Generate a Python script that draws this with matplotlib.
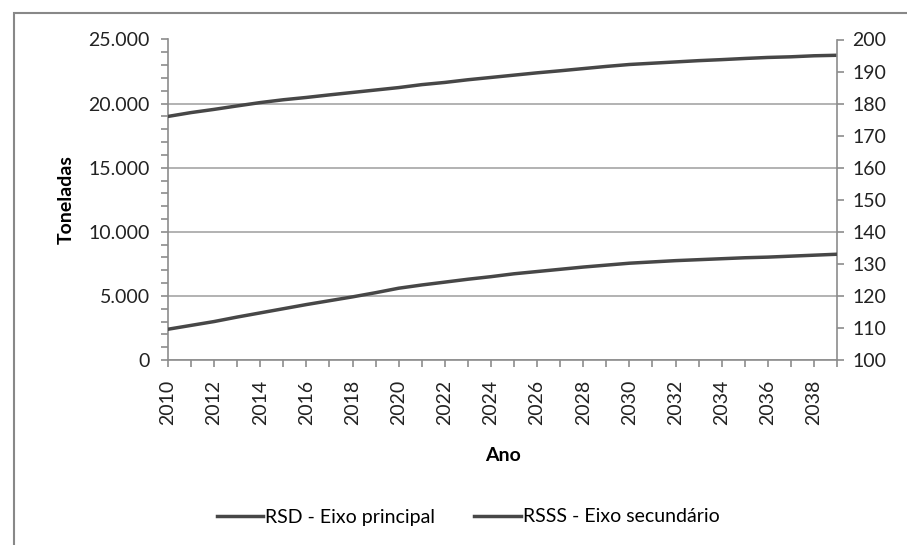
import numpy as np
import matplotlib.pyplot as plt
from matplotlib.patches import Rectangle
from matplotlib.ticker import FuncFormatter, MultipleLocator

plt.rcParams['font.family'] = ['Lato', 'DejaVu Sans']

# anos da projecao
anos = list(range(2010, 2040))

# RSD - toneladas (eixo principal)
rsd = [19000, 19300, 19550, 19820, 20080, 20300, 20480, 20680, 20870, 21060,
       21250, 21480, 21650, 21860, 22040, 22220, 22400, 22560, 22730, 22900,
       23050, 23150, 23250, 23350, 23430, 23520, 23600, 23650, 23730, 23770]

# RSSS - toneladas (eixo secundario)
rsss = [109.6, 110.8, 112.0, 113.4, 114.7, 116.0, 117.3, 118.5, 119.7, 121.0,
        122.4, 123.4, 124.3, 125.2, 126.0, 126.9, 127.6, 128.3, 129.0, 129.6,
        130.2, 130.6, 131.0, 131.3, 131.6, 131.9, 132.1, 132.4, 132.7, 133.0]

line_col = '#474747'
axis_col = '#8c8c8c'
grid_col = '#a6a6a6'
fs = 14

fig = plt.figure(figsize=(9.07, 5.45), dpi=100)
ax = fig.add_axes([168/907, 1-360/545, (837-168)/907, (360-39.5)/545])
ax2 = ax.twinx()

ax.plot(anos, rsd, color=line_col, lw=2.5, label='RSD - Eixo principal', zorder=3)
ax2.plot(anos, rsss, color=line_col, lw=2.5, label='RSSS - Eixo secundário', zorder=3)

ax.set_xlim(2010, 2039)
ax.set_ylim(0, 25000)
ax2.set_ylim(100, 200)

ax.set_yticks(np.arange(0, 25001, 5000))
ax.yaxis.set_minor_locator(MultipleLocator(1000))
ax.yaxis.set_major_formatter(FuncFormatter(lambda v, p: '{:,.0f}'.format(v).replace(',', '.')))
ax2.set_yticks(np.arange(100, 201, 10))

ax.set_xticks(anos[::2])
ax.set_xticks(anos, minor=True)
ax.set_xticklabels([str(a) for a in anos[::2]], rotation=90)

ax.grid(axis='y', color=grid_col, lw=1.2)
ax.set_axisbelow(True)

for a in (ax, ax2):
    for s in a.spines.values():
        s.set_visible(False)
ax.spines['left'].set_visible(True)
ax.spines['bottom'].set_visible(True)
ax2.spines['right'].set_visible(True)
for s in (ax.spines['left'], ax.spines['bottom'], ax2.spines['right']):
    s.set_color(axis_col)
    s.set_linewidth(1.2)

ax.tick_params(which='both', color=axis_col, length=5, width=1.2, labelsize=fs,
               labelcolor='#222222')
ax2.tick_params(which='both', color=axis_col, length=5, width=1.2, labelsize=fs,
                labelcolor='#222222')
ax.tick_params(axis='y', pad=8)
ax.tick_params(axis='x', pad=9)
ax2.tick_params(axis='y', pad=6)

ax.set_ylabel('Toneladas', fontsize=fs, fontweight='bold', labelpad=10)
ax.set_xlabel('Ano', fontsize=fs, fontweight='bold', labelpad=16)

h1, l1 = ax.get_legend_handles_labels()
h2, l2 = ax2.get_legend_handles_labels()
fig.legend(h1 + h2, l1 + l2, loc='center', bbox_to_anchor=(468/907, 1-517/545),
           ncol=2, frameon=False, fontsize=fs, handlelength=2.4, handletextpad=0.1,
           columnspacing=2.0)

fig.patches.append(Rectangle((14/907, -0.1), 1.2, 1 - 13/545 + 0.1,
                             transform=fig.transFigure, fill=False,
                             edgecolor='#888888', lw=1.5))

fig.savefig('out.png', dpi=100)
